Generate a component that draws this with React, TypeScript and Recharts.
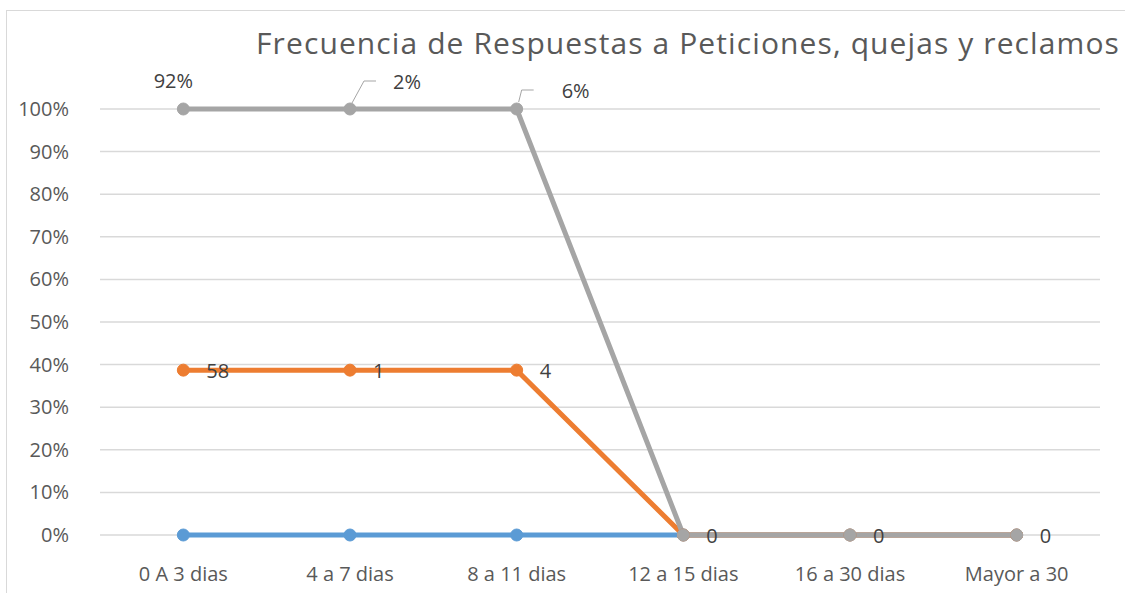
import { LineChart, Line, XAxis, YAxis, CartesianGrid, LabelList } from 'recharts';

const categories = ['0 A 3 dias', '4 a 7 dias', '8 a 11 dias', '12 a 15 dias', '16 a 30 dias', 'Mayor a 30'];
const blueValues = [0, 0, 0, 0, 0, 0];
const orangeValues = [38.7, 38.7, 38.7, 0, 0, 0];
const grayValues = [100, 100, 100, 0, 0, 0];
const orangeLabels = ['58', '1', '4', '0', '0', '0'];
const grayLabels = ['92%', '2%', '6%', '', '', ''];
const yTicks = [0, 10, 20, 30, 40, 50, 60, 70, 80, 90, 100];

const data = categories.map((name, i) => ({
  name,
  blue: blueValues[i],
  orange: orangeValues[i],
  gray: grayValues[i],
  orangeLabel: orangeLabels[i],
  grayLabel: grayLabels[i],
}));

const FONT = '"Open Sans", sans-serif';
const TEXT = '#595959';

function YTick({ x, y, payload }: any) {
  return (
    <text x={x - 23} y={y + 7} textAnchor="end" fontSize={20} fill={TEXT} fontFamily={FONT}>
      {payload.value}%
    </text>
  );
}

function XTick({ x, y, payload }: any) {
  return (
    <text x={x} y={y + 38} textAnchor="middle" fontSize={20} fill={TEXT} fontFamily={FONT}>
      {payload.value}
    </text>
  );
}

function OrangeLabel({ x, y, value }: any) {
  return (
    <text x={x + 23} y={y + 8} fontSize={20} fill="#404040" fontFamily={FONT}>
      {value}
    </text>
  );
}

function GrayLabel({ x, y, value, index }: any) {
  if (!value) return null;
  if (index === 0) {
    return (
      <text x={x - 10} y={y - 21} textAnchor="middle" fontSize={20} fill="#404040" fontFamily={FONT}>
        {value}
      </text>
    );
  }
  const lead =
    index === 1
      ? { p: [[2, -6], [14, -28], [26, -28]], tx: 43, ty: -20 }
      : { p: [[2, -7], [5, -19], [17, -19]], tx: 45, ty: -11 };
  const d = lead.p.map((pt, i) => `${i ? 'L' : 'M'}${x + pt[0]},${y + pt[1]}`).join(' ');
  return (
    <g>
      <path d={d} stroke="#A5A5A5" strokeWidth={1} fill="none" />
      <text x={x + lead.tx} y={y + lead.ty} fontSize={20} fill="#404040" fontFamily={FONT}>
        {value}
      </text>
    </g>
  );
}

export default function App() {
  return (
    <div style={{ position: 'absolute', left: 0, top: 0, width: 1125, height: 593, background: '#fff', overflow: 'hidden' }}>
      <div
        style={{
          position: 'absolute',
          left: 6,
          top: 10,
          width: 1130,
          height: 600,
          border: '1.5px solid #D9D9D9',
          boxSizing: 'border-box',
        }}
      />
      <div
        style={{
          position: 'absolute',
          left: 688,
          top: 22,
          transform: 'translateX(-50%)',
          fontFamily: FONT,
          fontSize: 30,
          letterSpacing: 1.1,
          color: TEXT,
          whiteSpace: 'nowrap',
        }}
      >
        Frecuencia de Respuestas a Peticiones, quejas y reclamos
      </div>
      <div style={{ position: 'absolute', left: 0, top: 0 }}>
        <LineChart width={1125} height={593} data={data} margin={{ top: 109, right: 25, left: 0, bottom: 0 }}>
          <CartesianGrid vertical={false} stroke="#D9D9D9" strokeWidth={1.5} />
          <XAxis
            dataKey="name"
            scale="band"
            height={58}
            axisLine={false}
            tickLine={false}
            tick={<XTick />}
            interval={0}
          />
          <YAxis
            width={100}
            domain={[0, 100]}
            ticks={yTicks}
            axisLine={false}
            tickLine={false}
            tick={<YTick />}
            interval={0}
          />
          <Line
            dataKey="blue"
            stroke="#5B9BD5"
            strokeWidth={5}
            dot={{ r: 6, fill: '#5B9BD5', stroke: '#5B9BD5', strokeWidth: 1 }}
            activeDot={false}
            isAnimationActive={false}
          />
          <Line
            dataKey="orange"
            stroke="#ED7D31"
            strokeWidth={5}
            dot={{ r: 6, fill: '#ED7D31', stroke: '#ED7D31', strokeWidth: 1 }}
            activeDot={false}
            isAnimationActive={false}
          />
          <Line
            dataKey="gray"
            stroke="#A5A5A5"
            strokeWidth={5}
            dot={{ r: 6, fill: '#A5A5A5', stroke: '#A5A5A5', strokeWidth: 1 }}
            activeDot={false}
            isAnimationActive={false}
          >
            <LabelList dataKey="grayLabel" content={<GrayLabel />} />
          </Line>
          <Line dataKey="orange" stroke="none" dot={false} activeDot={false} isAnimationActive={false}>
            <LabelList dataKey="orangeLabel" content={<OrangeLabel />} />
          </Line>
        </LineChart>
      </div>
    </div>
  );
}
